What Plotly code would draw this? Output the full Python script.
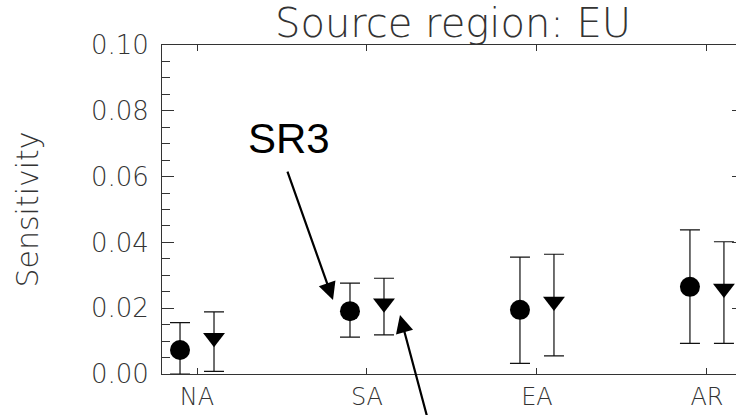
import plotly.graph_objects as go

categories = ["NA", "SA", "EA", "AR"]
circle_val = [0.0073, 0.0191, 0.0195, 0.0265]
circle_hi = [0.0156, 0.0276, 0.0355, 0.0438]
circle_lo = [0.0, 0.0112, 0.0032, 0.0093]
tri_val = [0.0110, 0.0215, 0.0220, 0.0260]
tri_hi = [0.0189, 0.0291, 0.0364, 0.0402]
tri_lo = [0.0008, 0.0119, 0.0055, 0.0093]
y_ticks = [0.0, 0.02, 0.04, 0.06, 0.08, 0.10]
y_ticktext = ["0.00", "0.02", "0.04", "0.06", "0.08", "0.10"]

offset = 0.1
idx = list(range(len(categories)))
TXT = "#333333"
FONT = "DejaVu Sans"

fig = go.Figure()
fig.add_trace(go.Scatter(
    x=[i - offset for i in idx], y=circle_val, mode="markers",
    marker=dict(symbol="circle", size=20, color="black"),
    error_y=dict(type="data", symmetric=False,
                 array=[h - v for h, v in zip(circle_hi, circle_val)],
                 arrayminus=[v - l for v, l in zip(circle_val, circle_lo)],
                 color="#111", thickness=1.2, width=10),
    showlegend=False, cliponaxis=True))
fig.add_trace(go.Scatter(
    x=[i + offset for i in idx], y=tri_val, mode="markers",
    marker=dict(symbol="triangle-down", size=19, color="black"),
    error_y=dict(type="data", symmetric=False,
                 array=[h - v for h, v in zip(tri_hi, tri_val)],
                 arrayminus=[v - l for v, l in zip(tri_val, tri_lo)],
                 color="#111", thickness=1.2, width=10),
    showlegend=False, cliponaxis=True))

fig.update_layout(
    width=746, height=415,
    margin=dict(l=162, r=2, t=45, b=41, autoexpand=False),
    plot_bgcolor="white", paper_bgcolor="white",
    title=dict(text="Source region: EU", x=0.5, xref="paper", xanchor="center",
               y=1 - 23 / 415, yref="container", yanchor="middle",
               font=dict(family=FONT, weight=200, size=40, color=TXT)),
    xaxis=dict(range=[-0.206, 3.218], tickmode="array", tickvals=idx, ticktext=categories,
               automargin=False,
               showline=True, linecolor="#333", linewidth=1, mirror="ticks",
               ticks="inside", ticklen=6, tickcolor="#333", tickwidth=1,
               showgrid=False, zeroline=False, ticklabelstandoff=1,
               tickfont=dict(family=FONT, weight=200, size=24, color=TXT)),
    yaxis=dict(range=[0, 0.10], tickmode="array", tickvals=y_ticks, ticktext=y_ticktext,
               automargin=False,
               showline=True, linecolor="#333", linewidth=1, mirror="ticks",
               ticks="inside", ticklen=12, tickcolor="#333", tickwidth=1,
               minor=dict(dtick=0.005, ticks="inside", ticklen=8, tickcolor="#333", tickwidth=1, showgrid=False),
               showgrid=False, zeroline=False, ticklabelstandoff=7,
               tickfont=dict(family=FONT, weight=200, size=26, color=TXT),
               title=dict(text="Sensitivity", standoff=43,
                          font=dict(family=FONT, weight=200, size=30, color=TXT))),
    annotations=[
        dict(text="SR3", x=0.544, y=0.0716, xref="x", yref="y", showarrow=False,
             font=dict(family="Liberation Sans", size=42, color="black"),
             xanchor="center", yanchor="middle"),
        dict(text="", x=0.8, y=0.0225, xref="x", yref="y", ax=0.529, ay=0.062,
             axref="x", ayref="y", showarrow=True, arrowhead=2, arrowsize=1.6,
             arrowwidth=2.2, arrowcolor="black", standoff=0, startstandoff=0),
        dict(text="", x=1.194, y=0.0179, xref="x", yref="y", ax=1.43, ay=-0.0277,
             axref="x", ayref="y", showarrow=True, arrowhead=2, arrowsize=1.6,
             arrowwidth=2.2, arrowcolor="black", standoff=0, startstandoff=0),
    ],
)

fig.write_html("out.html",
               post_script="document.documentElement.style.overflow='hidden';document.body.style.overflow='hidden';")
